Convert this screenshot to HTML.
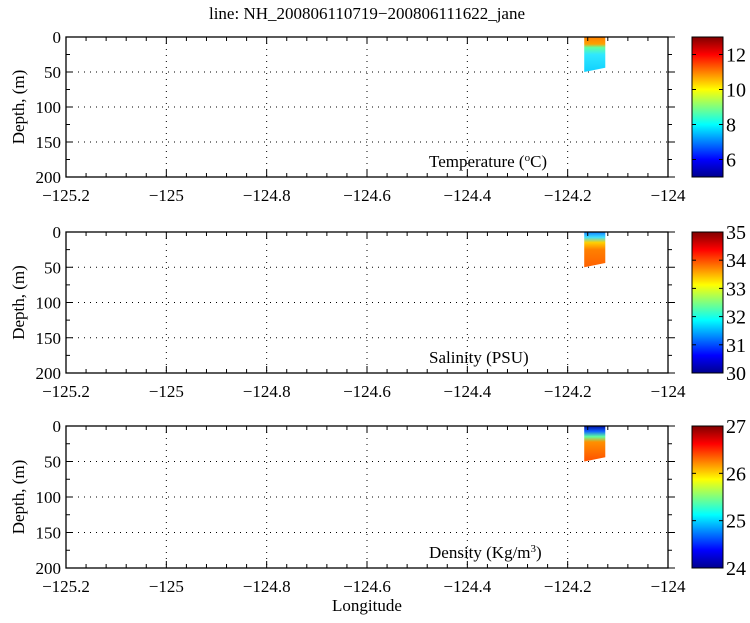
<!DOCTYPE html>
<html><head><meta charset="utf-8">
<style>
html,body{margin:0;padding:0;background:#fff;}
svg text{font-family:"Liberation Serif",serif;fill:#000;}
</style></head>
<body>
<svg id="s" width="750" height="618" xmlns="http://www.w3.org/2000/svg">
<defs>
<linearGradient id="jet" x1="0" y1="1" x2="0" y2="0">
<stop offset="0" stop-color="#00008f"/>
<stop offset="0.125" stop-color="#0000ff"/>
<stop offset="0.375" stop-color="#00ffff"/>
<stop offset="0.625" stop-color="#ffff00"/>
<stop offset="0.875" stop-color="#ff0000"/>
<stop offset="1" stop-color="#800000"/>
</linearGradient>
<linearGradient id="g1" x1="0" y1="0" x2="0" y2="1">
<stop offset="0" stop-color="#ff8000"/><stop offset="0.2" stop-color="#ffa000"/>
<stop offset="0.3" stop-color="#60ffa0"/><stop offset="0.5" stop-color="#30e8ff"/>
<stop offset="1" stop-color="#10d0ff"/></linearGradient>
<linearGradient id="g2" x1="0" y1="0" x2="0" y2="1">
<stop offset="0" stop-color="#1080ff"/><stop offset="0.15" stop-color="#40e0ff"/>
<stop offset="0.3" stop-color="#ffd000"/><stop offset="0.5" stop-color="#ff8000"/>
<stop offset="1" stop-color="#ff6000"/></linearGradient>
<linearGradient id="g3" x1="0" y1="0" x2="0" y2="1">
<stop offset="0" stop-color="#0010a0"/><stop offset="0.15" stop-color="#1060ff"/>
<stop offset="0.3" stop-color="#60ffa0"/><stop offset="0.45" stop-color="#ff9000"/>
<stop offset="1" stop-color="#ff5000"/></linearGradient>
</defs>
<text x="367" y="19" font-size="17" text-anchor="middle">line: NH_200806110719−200806111622_jane</text>
<text x="367" y="611" font-size="17" text-anchor="middle">Longitude</text>
</svg>
<script>
var s=document.getElementById('s'),NS='http://www.w3.org/2000/svg';
function el(t,a,txt){var e=document.createElementNS(NS,t);for(var k in a)e.setAttribute(k,a[k]);if(txt!==undefined)e.innerHTML=txt;s.appendChild(e);return e;}
var L=66,R=668,W=R-L;
var panels=[{t:37,b:177,g:'g1',lab:'Temperature (<tspan font-size="11" dy="-6">o</tspan><tspan dy="6">C)</tspan>',cv:[12,10,8,6],mn:5,mx:13},
{t:232,b:373,g:'g2',lab:'Salinity (PSU)',cv:[35,34,33,32,31,30],mn:30,mx:35},
{t:426,b:568,g:'g3',lab:'Density (Kg/m<tspan font-size="11" dy="-6">3</tspan><tspan dy="6">)</tspan>',cv:[27,26,25,24],mn:24,mx:27}];
panels.forEach(function(p){
 var H=p.b-p.t;
 function yv(d){return p.t+d/200*H;}
 function xv(l){return L+(l+125.2)/1.2*W;}
 for(var d=50;d<200;d+=50)el('line',{x1:L,x2:R,y1:yv(d),y2:yv(d),stroke:'#000','stroke-width':1,'stroke-dasharray':'1,5'});
 for(var i=1;i<6;i++){var x=xv(-125.2+0.2*i);el('line',{x1:x,x2:x,y1:p.t,y2:p.b,stroke:'#000','stroke-width':1,'stroke-dasharray':'1,5'});}
 var x0=xv(-124.167),x1=xv(-124.125);
 el('path',{d:'M'+x0+' '+p.t+'L'+x1+' '+p.t+'L'+x1+' '+(yv(44))+'L'+x0+' '+yv(50)+'Z',fill:'url(#'+p.g+')'});
 for(var i=0;i<=30;i++){var x=xv(-125.2+0.04*i);var len=(i%5==0)?7:4;
  el('line',{x1:x,x2:x,y1:p.b,y2:p.b-len,stroke:'#000'});el('line',{x1:x,x2:x,y1:p.t,y2:p.t+len,stroke:'#000'});}
 for(var d=0;d<=200;d+=25){var y=yv(d),len=(d%50==0)?7:4;
  el('line',{x1:L,x2:L+len,y1:y,y2:y,stroke:'#000'});el('line',{x1:R,x2:R+len,y1:y,y2:y,stroke:'#000'});}
 el('rect',{x:L,y:p.t,width:W,height:H,fill:'none',stroke:'#000','stroke-width':1.3});
 ['−125.2','−125','−124.8','−124.6','−124.4','−124.2','−124'].forEach(function(t,i){el('text',{x:xv(-125.2+0.2*i),y:p.b+24,'font-size':17,'text-anchor':'middle'},t);});
 [0,50,100,150,200].forEach(function(d){el('text',{x:L-5,y:yv(d)+6,'font-size':17,'text-anchor':'end'},d);});
 el('text',{x:24,y:(p.t+p.b)/2,'font-size':17,'text-anchor':'middle',transform:'rotate(-90 24 '+(p.t+p.b)/2+')'},'Depth, (m)');
 el('text',{x:429,y:p.b-10,'font-size':17},p.lab);
 el('rect',{x:692,y:p.t,width:31,height:H,fill:'url(#jet)',stroke:'#000','stroke-width':1});
 p.cv.forEach(function(v){var y=p.b-(v-p.mn)/(p.mx-p.mn)*H;
  el('line',{x1:692,x2:696,y1:y,y2:y,stroke:'#000'});el('line',{x1:719,x2:723,y1:y,y2:y,stroke:'#000'});
  el('text',{x:726,y:y+7,'font-size':20},v);});
});
</script>
</body></html>
